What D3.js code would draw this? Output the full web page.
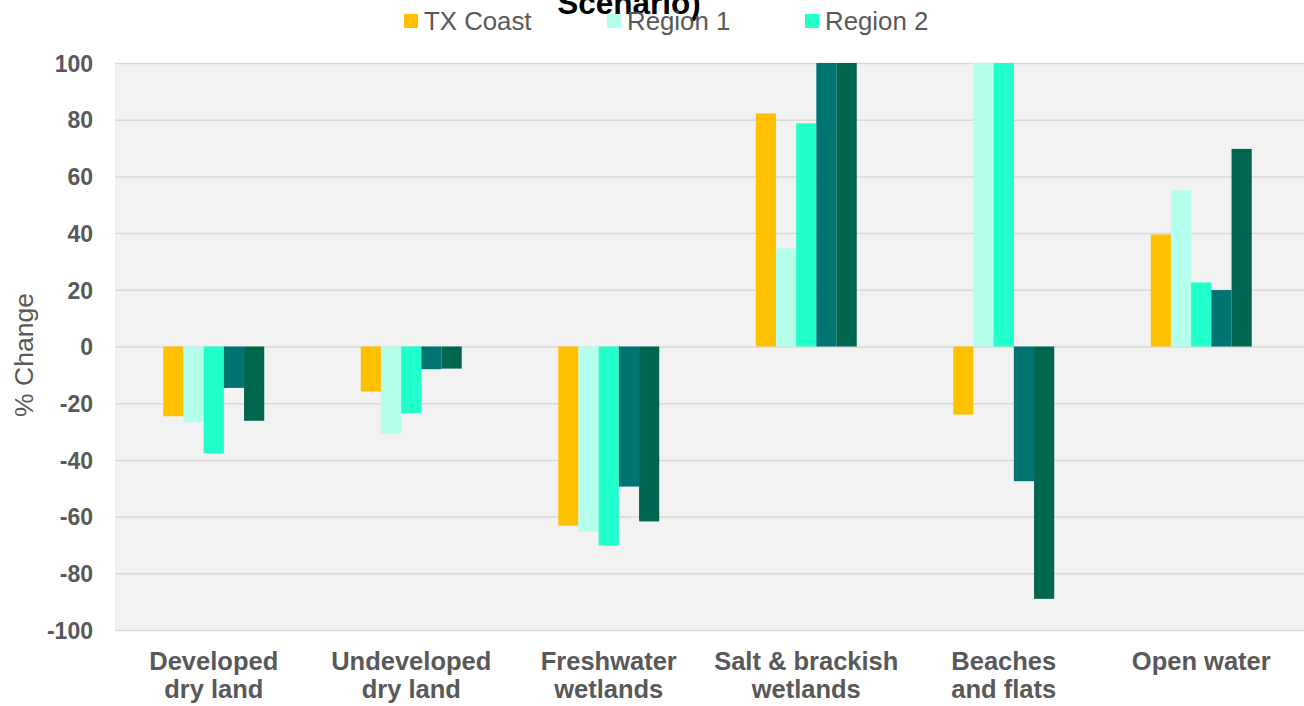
<!DOCTYPE html>
<html>
<head>
<meta charset="utf-8">
<script src="https://cdn.jsdelivr.net/npm/d3@7"></script>
<style>
  html, body { margin: 0; padding: 0; background: #ffffff; }
  svg { display: block; font-family: "Liberation Sans", Arial, sans-serif; }
</style>
</head>
<body>
<svg id="chart" width="1304" height="706"></svg>
<script>
// Land-cover categories (two-line labels)
const categories = ["Developed dry land", "Undeveloped dry land", "Freshwater wetlands",
                    "Salt & brackish wetlands", "Beaches and flats", "Open water"];
const categoryLines = [["Developed", "dry land"], ["Undeveloped", "dry land"], ["Freshwater", "wetlands"],
                       ["Salt & brackish", "wetlands"], ["Beaches", "and flats"], ["Open water"]];

// Series and their % change values, one per category
const seriesNames = ["TX Coast", "Region 1", "Region 2", "Region 3", "Region 4"];
const txCoast = [-24.6, -15.9, -63.2, 82.2, -24.0, 39.5];
const region1 = [-26.7, -30.8, -65.3, 34.6, 100, 55.1];
const region2 = [-37.7, -23.6, -70.2, 78.7, 100, 22.6];
const region3 = [-14.6, -8.0, -49.4, 100, -47.5, 19.9];
const region4 = [-26.2, -7.8, -61.7, 100, -89.0, 69.7];
const seriesColors = ["#FFC000", "#B3FFEB", "#21FFCB", "#007373", "#00664F"];

// Legend entries shown across the top
const legendNames = ["TX Coast", "Region 1", "Region 2"];

const yTicks = [100, 80, 60, 40, 20, 0, -20, -40, -60, -80, -100];

const seriesValues = [txCoast, region1, region2, region3, region4];
const rows = categories.map((c, i) => ({
  category: c,
  values: seriesNames.map((s, j) => ({ series: s, value: seriesValues[j][i], color: seriesColors[j] }))
}));

const svg = d3.select("#chart");
const plot = { left: 115, right: 1300, top: 63, bottom: 630 };

const x0 = d3.scaleBand().domain(categories).range([plot.left, plot.right]).padding(0);
const x1 = d3.scaleBand().domain(seriesNames).range([0, x0.bandwidth()]).paddingInner(0).paddingOuter(2.39);
const y = d3.scaleLinear().domain([-100, 100]).range([plot.bottom, plot.top]);

// plot background
svg.append("rect")
  .attr("x", plot.left).attr("y", plot.top)
  .attr("width", plot.right - plot.left + 4).attr("height", plot.bottom - plot.top)
  .attr("fill", "#f2f2f2");

// horizontal gridlines and value labels
const yAxis = d3.axisLeft(y).tickValues(yTicks).tickSize(-(plot.right - plot.left + 4)).tickFormat(d => d);
const gy = svg.append("g").attr("transform", `translate(${plot.left},0)`).call(yAxis);
gy.select(".domain").remove();
gy.selectAll(".tick line").attr("stroke", "#d9d9d9").attr("stroke-width", 1.5);
gy.selectAll(".tick text")
  .attr("x", -22).attr("dy", "0.36em")
  .attr("fill", "#595959").attr("font-size", "23px").attr("font-weight", "bold")
  .attr("font-family", "'Liberation Sans', Arial, sans-serif");

// clip bars to the plot area
svg.append("clipPath").attr("id", "plotClip")
  .append("rect").attr("x", plot.left).attr("y", plot.top)
  .attr("width", plot.right - plot.left + 4).attr("height", plot.bottom - plot.top);

const groups = svg.append("g").attr("clip-path", "url(#plotClip)")
  .selectAll("g.cat").data(rows).join("g")
  .attr("class", "cat")
  .attr("transform", d => `translate(${x0(d.category)},0)`);

groups.selectAll("rect").data(d => d.values).join("rect")
  .attr("x", d => x1(d.series))
  .attr("width", x1.bandwidth())
  .attr("y", d => y(Math.max(0, d.value)))
  .attr("height", d => Math.abs(y(d.value) - y(0)))
  .attr("fill", d => d.color);

// category labels
const xl = svg.append("g");
categories.forEach((c, i) => {
  const cx = x0(c) + x0.bandwidth() / 2;
  const t = xl.append("text")
    .attr("x", cx)
    .attr("y", 670)
    .attr("text-anchor", "middle")
    .attr("fill", "#595959").attr("font-size", "25.5px").attr("font-weight", "bold");
  categoryLines[i].forEach((line, k) => {
    t.append("tspan").attr("x", cx).attr("dy", k === 0 ? 0 : 28).text(line);
  });
});

// y-axis title
svg.append("text")
  .attr("transform", `translate(33,355) rotate(-90)`)
  .attr("text-anchor", "middle")
  .attr("fill", "#595959").attr("font-size", "26.5px")
  .text("% Change");

// chart title (top line runs off the canvas)
svg.append("text")
  .attr("x", 629).attr("y", 14)
  .attr("text-anchor", "middle")
  .attr("fill", "#000000").attr("font-size", "31.5px").attr("font-weight", "bold")
  .text("Scenario)");

// legend
const legendX = [404, 607, 805];
const lg = svg.append("g");
legendNames.forEach((name, i) => {
  const color = seriesColors[seriesNames.indexOf(name)];
  lg.append("rect").attr("x", legendX[i]).attr("y", 14).attr("width", 14).attr("height", 14).attr("fill", color);
  lg.append("text").attr("x", legendX[i] + 20).attr("y", 30)
    .attr("fill", "#595959").attr("font-size", "25.8px").text(name);
});
</script>
</body>
</html>
